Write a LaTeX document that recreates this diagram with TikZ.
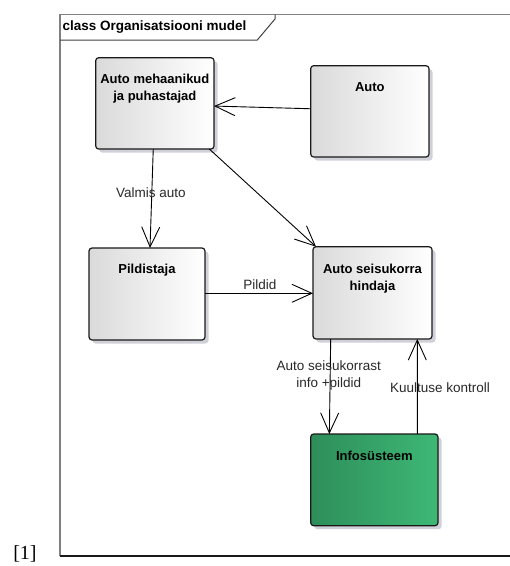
\documentclass[tikz,border=0pt]{standalone}
\usepackage{fontspec}
\setmainfont{Liberation Sans}
\newfontfamily\refserif{Liberation Serif}
\usetikzlibrary{arrows.meta}
\definecolor{boxgray}{RGB}{218,218,218}
\definecolor{greenL}{RGB}{46,142,90}
\definecolor{greenR}{RGB}{62,184,117}
\definecolor{shadowc}{RGB}{208,208,216}
\definecolor{framegray}{RGB}{128,128,128}
\definecolor{labelc}{RGB}{40,40,40}
\begin{document}
\begin{tikzpicture}[x=1pt,y=-1pt,
  classbox/.style={draw=black!90, line width=1.2pt, rounded corners=3pt,
    inner sep=0pt, outer sep=0pt, left color=boxgray, right color=white},
  greenbox/.style={classbox, left color=greenL, right color=greenR},
  boxtext/.style={anchor=north, inner sep=0pt, align=center,
    font=\fontsize{13}{16.5}\selectfont\bfseries},
  edgelabel/.style={inner sep=0pt, align=center, text=labelc,
    font=\fontsize{13.5}{17}\selectfont},
  assoc/.style={draw=black, line width=0.9pt,
    -{Straight Barb[length=20pt,width=18pt,line width=0.9pt]}},
  plain/.style={draw=black, line width=0.9pt}
]
\useasboundingbox (0,0) rectangle (510,566);
% frame
\draw[framegray, line width=1.3pt] (512,14.5) -- (60,14.5) -- (60,556);
\draw[black!90, line width=1.2pt] (60,556) -- (512,556);
\draw[black!75, line width=1pt] (60,40) -- (257.3,40) -- (275,19) -- (275,14.5);
\node[anchor=west, inner sep=0pt, font=\fontsize{13.5}{16}\selectfont\bfseries] (title) at (62.5,27) {class Organisatsiooni mudel};

% shadows
\foreach \cx/\cy/\w/\h in {154.85/103.35/118.3/91.3, 369.85/111.35/118.3/91.3, 147/294/116/92, 372.5/292.85/119/92.3, 374.35/479.85/127.3/91.7}{
  \fill[shadowc, rounded corners=3pt] (\cx-\w/2+3.5,\cy-\h/2+3.5) rectangle (\cx+\w/2+3.5,\cy+\h/2+3.5);
}

% boxes
\node[classbox, minimum width=118.3pt, minimum height=91.3pt] (mech) at (154.85,103.35) {};
\node[classbox, minimum width=118.3pt, minimum height=91.3pt] (auto) at (369.85,111.35) {};
\node[classbox, minimum width=116pt, minimum height=92pt] (pild) at (147,294) {};
\node[classbox, minimum width=119pt, minimum height=92.3pt] (hind) at (372.5,292.85) {};
\node[greenbox, minimum width=127.3pt, minimum height=91.7pt] (info) at (374.35,479.85) {};

% box texts
\node[boxtext] (mecht) at ([yshift=-16.3pt]mech.north) {Auto mehaanikud\\ja puhastajad};
\node[boxtext] (autot) at ([yshift=-16.3pt]auto.north) {Auto};
\node[boxtext] (pildt) at ([yshift=-16.3pt]pild.north) {Pildistaja};
\node[boxtext] (hindt) at ([yshift=-17.3pt]hind.north) {Auto seisukorra\\hindaja};
\node[boxtext] (infot) at ([yshift=-16.8pt]info.north) {Infosüsteem};

% connectors
\draw[assoc] ([yshift=2.6pt]auto.west) -- ([yshift=-2.7pt]mech.east);
\draw[assoc] ([xshift=-1.6pt]mech.south) -- ([xshift=3pt]pild.north);
\draw[assoc] ([xshift=-4.7pt]mech.south east) -- ([xshift=3pt]hind.north west);
\draw[assoc] ([yshift=0.7pt]pild.east) -- ([yshift=-0.45pt]hind.west);
\draw[assoc] ([xshift=-41.8pt]hind.south) -- ([xshift=-45pt]info.north);
\draw[assoc] ([xshift=43pt]info.north) -- ([xshift=44.8pt]hind.south);

% connector labels
\node[edgelabel] (l1) at (150.8,192.7) {Valmis auto};
\node[edgelabel] (l2) at (260,284.3) {Pildid};
\node[edgelabel] (l3) at (328.8,375.8) {Auto seisukorrast\\info +pildid};
\node[edgelabel] (l4) at (440,387.3) {Kuultuse kontroll};

% reference mark
\node[inner sep=0pt, font=\refserif\fontsize{20}{22}\selectfont] (ref) at (25,554) {[1]};
\end{tikzpicture}
\end{document}
